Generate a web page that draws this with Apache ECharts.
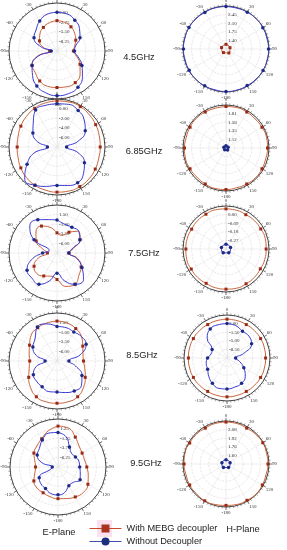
<!DOCTYPE html>
<html><head><meta charset="utf-8">
<script src="https://cdn.jsdelivr.net/npm/echarts@6/dist/echarts.min.js"></script>
<style>html,body{margin:0;padding:0;background:#fff}#c{width:287px;height:550px}</style>
</head><body><div id="c"></div>
<script>
// ---- angles (degrees, clockwise from top) ----
const ANGLES = [0,15,30,45,60,75,90,105,120,135,150,165,180,195,210,225,240,255,270,285,300,315,330,345];
const SMALL_ANGLES = [0,72,144,216,288];
const FREQS = ['4.5GHz','6.85GHz','7.5GHz','8.5GHz','9.5GHz'];
// radius axis: min and step (5 steps to the rim), per plot: E4.5,H4.5,E6.85,H6.85,E7.5,H7.5,E8.5,H8.5,E9.5,H9.5
const R_MIN  = [-11, 1.05, -8, 0.89, -8.5, -0.36, -8.5, -12, -8.75, 1.44];
const R_STEP = [2.75, 0.35, 2, 0.23, 2.5, 0.09, 2.5, 3.5, 2.5, 0.16];

// ---- 4.5 GHz ----
const E45_WITH    = [-2.3,-2.5,-3.0,-3.85,-4.8,-5.8,-6.3,-5.2,-3.4,-1.65,-0.55,-0.4,-0.55,-0.55,-1.1,-2.2,-2.75,-5.2,-8.9,-6.9,-5.2,-4.1,-3.2,-2.6];
const E45_WITHOUT = [0.1,0.0,-0.8,-1.9,-3.4,-5.5,-6.0,-4.8,-2.75,-0.7,1.0,1.65,1.8,1.4,0.55,-1.1,-2.75,-5.5,-9.35,-6.2,-3.4,-2.5,-1.1,-0.1];
const H45_WITH    = [1.24,1.22,1.25,1.23,1.24];
const H45_WITHOUT = [2.78,2.77,2.78,2.79,2.78,2.77,2.78,2.78,2.79,2.78,2.77,2.78,2.78,2.77,2.78,2.79,2.78,2.77,2.78,2.78,2.79,2.78,2.77,2.78];
// ---- 6.85 GHz ----
const E685_WITH    = [1.6,1.7,1.7,1.5,1.3,1.1,1.0,1.0,1.2,1.4,1.5,1.5,1.4,1.3,1.2,1.0,0.7,0.4,0.3,0.4,0.7,1.0,1.3,1.5];
const E685_WITHOUT = [1.0,1.2,0.8,0,-1.2,-3.5,-6,-3.5,-1.4,-0.2,0.6,0.3,0,0.5,1.2,1.5,-0.8,-3,-6,-3.8,-2.2,-1,0.9,1.0];
const H685_WITH    = [2.0,2.01,2.0,1.99,2.0,2.01,2.0,1.99,2.0,2.01,2.0,1.99,2.0,2.01,2.0,1.99,2.0,2.01,2.0,1.99,2.0,2.01,2.0,1.99];
const H685_WITHOUT = [0.95,0.95,0.96,0.95,0.95];
// ---- 7.5 GHz ----
const E75_WITH    = [-3.25,-3.75,-2.25,-0.5,-1.6,-4.1,-5.4,-2.9,-1.25,-0.4,0.9,0.5,-1.6,-2.25,-1.6,-1.0,-1.6,-3.5,-6.0,-4.75,-2.25,-0.75,-0.4,-1.6];
const E75_WITHOUT = [0.1,-0.75,-0.75,-0.5,-1.6,-4.5,-5.4,-3.25,-1.0,1.25,0.9,-1.0,-3.25,-1.0,0.9,0.75,0.5,-1.6,-4.75,-6.4,-1.6,1.5,1.5,0.5];
const H75_WITH    = [0.06,0.06,0.055,0.06,0.06,0.065,0.06,0.06,0.055,0.06,0.06,0.065,0.06,0.06,0.055,0.06,0.06,0.065,0.06,0.06,0.055,0.06,0.06,0.065];
const H75_WITHOUT = [-0.31,-0.31,-0.31,-0.31,-0.31];
// ---- 8.5 GHz ----
const E85_WITH    = [1.9,1.75,1.25,0.5,-0.75,-1.5,-1.6,-1.0,0,1.25,2.25,2.5,2.5,2.5,2.25,1.25,0,-1.0,-1.4,-1.0,-0.25,1.0,1.5,1.75];
const E85_WITHOUT = [0.5,0.5,0.25,0.5,0.25,-2.25,-5.4,-3.5,-1.0,0.5,0.5,0,-0.4,-0.25,-0.75,-1.0,-1.4,-2.9,-5.4,-2.9,-1.25,-0.4,1.75,1.5];
const H85_WITH    = [3.8,3.75,3.7,3.75,3.8,3.75,3.7,3.75,3.8,3.75,3.7,3.75,3.8,3.75,3.7,3.75,3.8,3.75,3.7,3.75,3.8,3.75,3.7,3.75];
const H85_WITHOUT = [2.0,1.65,0.6,0.6,-0.45,-5,-8.5,-6.75,-4.1,-1.5,-0.1,0.25,0.6,0.8,-0.1,-1.5,-2.9,-3.25,-4.1,-5.35,-5,-0.6,1.65,2.0];
// ---- 9.5 GHz ----
const E95_WITH    = [1.9,1.75,0.25,-1.0,-1.5,-1.6,-1.25,-0.6,0.25,0.6,0.25,-0.25,-0.5,-0.75,-1.0,-1.0,-1.5,-2.5,-2.9,-2.5,-1.5,-1.0,-0.25,1.0];
const E95_WITHOUT = [0.25,-0.6,-2.75,-3.75,-3.5,-3.1,-3.1,-2.75,-2.1,-3.1,-3.1,-1.9,-1.5,-1.6,-2.25,-2.5,-3.1,-6.9,-7.25,-4.4,-2.5,-1.9,-0.6,0.4];
const H95_WITH    = [2.22,2.22,2.21,2.22,2.23,2.22,2.22,2.21,2.22,2.23,2.22,2.22,2.21,2.22,2.23,2.22,2.22,2.21,2.22,2.23,2.22,2.22,2.21,2.22];
const H95_WITHOUT = [1.52,1.52,1.52,1.52,1.52];

const PLOTS = [
  [E45_WITH, E45_WITHOUT, ANGLES, ANGLES],
  [H45_WITH, H45_WITHOUT, SMALL_ANGLES, ANGLES],
  [E685_WITH, E685_WITHOUT, ANGLES, ANGLES],
  [H685_WITH, H685_WITHOUT, ANGLES, SMALL_ANGLES],
  [E75_WITH, E75_WITHOUT, ANGLES, ANGLES],
  [H75_WITH, H75_WITHOUT, ANGLES, SMALL_ANGLES],
  [E85_WITH, E85_WITHOUT, ANGLES, ANGLES],
  [H85_WITH, H85_WITHOUT, ANGLES, ANGLES],
  [E95_WITH, E95_WITHOUT, ANGLES, ANGLES],
  [H95_WITH, H95_WITHOUT, ANGLES, SMALL_ANGLES]
];

const RED = '#c8643a', RED_M = '#9a2a18', BLUE = '#3a3ad2', BLUE_M = '#1c2a86';
const LEFT_C = [[57,51],[57,147],[57,253],[57,361],[58,467]];
const RIGHT_C = [[226,49],[226,148],[226,249],[227,358],[226,464]];

const polar = [], angleAxis = [], radiusAxis = [], series = [];
const serif = 'Liberation Serif';

function build(vals, angs, sym) {
  const every = angs.length > 8 ? 2 : 1;
  const d = vals.map((v, i) => ({ value: [v, angs[i]], symbol: (i % every === 0) ? sym : 'none' }));
  d.push({ value: [vals[0], 360], symbol: 'none' });
  return d;
}

for (let i = 0; i < 10; i++) {
  const row = Math.floor(i / 2), left = i % 2 === 0;
  const c = left ? LEFT_C[row] : RIGHT_C[row];
  polar.push({ center: c, radius: left ? 48 : 43 });
  angleAxis.push({
    polarIndex: i, type: 'value', min: 0, max: 360, interval: 30, startAngle: 90, clockwise: true,
    axisLine: { lineStyle: { color: '#444', width: 1 } },
    axisTick: { show: true, length: 3, lineStyle: { color: '#444', width: 0.8 } },
    minorTick: { show: true, splitNumber: 6, length: 1.8, lineStyle: { color: '#555', width: 0.5 } },
    axisLabel: { fontSize: 5, color: '#333', fontFamily: serif, margin: 3,
      formatter: v => v === 360 ? '' : (v >= 180 ? String(v - 360) : String(v)) },
    splitLine: { show: true, lineStyle: { color: '#e4e4e4', width: 0.6 } }
  });
  const mn = R_MIN[i], st = R_STEP[i];
  radiusAxis.push({
    polarIndex: i, type: 'value', min: mn, max: mn + 5 * st, interval: st,
    axisLine: { show: true, lineStyle: { color: '#d8d8d8', width: 0.5 } },
    axisTick: { show: false },
    axisLabel: { fontSize: 5, color: '#333', fontFamily: serif, margin: -2, align: 'left',
      formatter: (v, idx) => (idx >= 1 && idx <= 4) ? v.toFixed(2) : '' },
    splitLine: { lineStyle: { color: '#e0d4dc', type: 'dashed', width: 0.6 } }
  });
  const p = PLOTS[i];
  series.push({
    type: 'line', coordinateSystem: 'polar', polarIndex: i, name: 'With MEBG decoupler',
    data: build(p[0], p[2], 'rect'), smooth: 0.5, symbol: 'rect', symbolSize: 3,
    lineStyle: { color: RED, width: 1 }, itemStyle: { color: RED_M }, z: 3, animation: false
  });
  series.push({
    type: 'line', coordinateSystem: 'polar', polarIndex: i, name: 'Without Decoupler',
    data: build(p[1], p[3], 'circle'), smooth: 0.5, symbol: 'circle', symbolSize: 3.5,
    lineStyle: { color: BLUE, width: 1 }, itemStyle: { color: BLUE_M }, z: 4, animation: false
  });
}

const FONT = '9.3px "Liberation Sans", Arial';
const FREQ_POS = [[139,57],[144,151],[144,253],[142,355],[146,463]];
const graphic = FREQS.map((f, k) => ({
  type: 'text', x: FREQ_POS[k][0], y: FREQ_POS[k][1],
  style: { text: f, fill: '#222', font: FONT, align: 'center', verticalAlign: 'middle' }
}));
graphic.push({ type: 'text', x: 59, y: 532, style: { text: 'E-Plane', fill: '#222', font: FONT, align: 'center', verticalAlign: 'middle' } });
graphic.push({ type: 'text', x: 243, y: 529, style: { text: 'H-Plane', fill: '#222', font: FONT, align: 'center', verticalAlign: 'middle' } });
graphic.push({ type: 'rect', shape: { x: 97, y: 520, width: 15, height: 17 }, style: { fill: '#fbe1ef' }, z: -1 });

const legendBase = {
  orient: 'vertical', left: 89, padding: 0, itemWidth: 32, itemHeight: 10, itemGap: 2, selectedMode: false,
  textStyle: { fontSize: 9.2, color: '#222', fontFamily: '"Liberation Sans", Arial' }
};

const chart = echarts.init(document.getElementById('c'), null, { renderer: 'canvas' });
chart.setOption({
  animation: false,
  backgroundColor: '#fff',
  polar, angleAxis, radiusAxis, series, graphic,
  legend: [
    Object.assign({}, legendBase, { top: 524,
      data: [{ name: 'With MEBG decoupler', itemStyle: { color: '#a83220' }, lineStyle: { color: '#c84a2a', width: 1 } }] }),
    Object.assign({}, legendBase, { top: 537,
      data: [{ name: 'Without Decoupler', itemStyle: { color: '#1c2f7e' }, lineStyle: { color: '#4050a8', width: 1 } }] })
  ]
});
</script></body></html>
